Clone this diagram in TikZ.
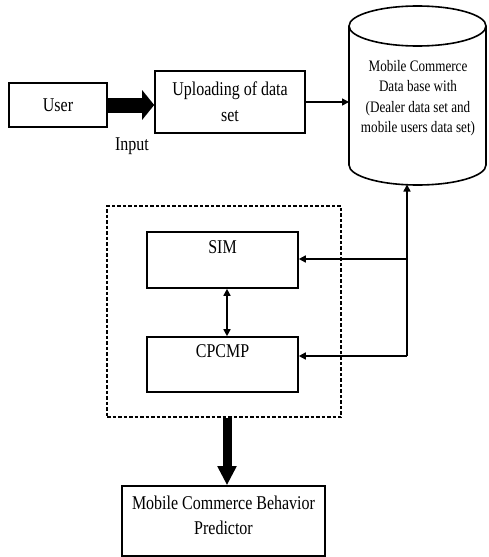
\documentclass[tikz,border=0pt]{standalone}
\usepackage{fontspec}
\setmainfont{Liberation Serif}[FakeStretch=0.82]
\usetikzlibrary{arrows.meta,calc}
\begin{document}
\begin{tikzpicture}[x=1pt,y=-1pt,
  every node/.style={font=\fontsize{19.5}{20}\selectfont},
  box/.style={draw,line width=1.6pt,inner sep=0pt,align=center},
  arr/.style={line width=1.6pt,-{Triangle[length=7pt,width=7pt]}},
  darr/.style={line width=1.6pt,{Triangle[length=7pt,width=7pt]}-{Triangle[length=7pt,width=7pt]}},
  bigarr/.style={line width=#1,-{Triangle[length=12pt,width=29pt]}}]
\useasboundingbox (0,0) rectangle (488,557);

% top row
\node[box,minimum width=98pt,minimum height=44pt] (user) at (58,105) {User};
\node[box,minimum width=150pt,minimum height=62pt,
      font=\fontsize{19.5}{26}\selectfont] (upload) at (230,102) {Uploading of data\\set};
\node (input) at (132,146) {Input};

% database cylinder
\draw[line width=1.6pt] (349,26) -- (349,165)
  arc[start angle=180,end angle=0,x radius=68.5,y radius=20] -- (486,26);
\draw[line width=1.6pt] (417.5,26) ellipse[x radius=68.5,y radius=20];
\node[align=center,font=\fontsize{16}{20.3}\selectfont] (db) at (418,98)
  {Mobile Commerce\\Data base with\\(Dealer data set and\\mobile users data set)};
\coordinate (dbw) at (349,102);
\coordinate (dbs) at (407,184.5);

% processing block
\node[draw,dashed,dash pattern=on 3.5pt off 2pt,line width=1.6pt,
      minimum width=234pt,minimum height=211pt] (block) at (224,311.5) {};
\node[box,minimum width=151pt,minimum height=56pt,
      label={[anchor=north,yshift=-6pt]north:SIM}] (sim) at (222.5,260) {};
\node[box,minimum width=151pt,minimum height=55pt,
      label={[anchor=north,yshift=-5pt]north:CPCMP}] (cpcmp) at (222.5,364.5) {};

% output
\node[box,minimum width=203pt,minimum height=70pt,
      label={[anchor=north,yshift=-7pt,align=center,font=\fontsize{19.5}{25}\selectfont]north:Mobile Commerce Behavior\\Predictor}]
      (mcbp) at (223.5,521) {};

% connectors
\draw[bigarr=15pt] (user.east) -- (user.east -| upload.west);
\draw[arr] (upload.east |- dbw) -- (dbw);
\coordinate (jA) at (407,259);
\coordinate (jB) at (407,356);
\draw[line width=1.6pt] (jA) -- (jB);
\draw[arr] (jB) -- (dbs);
\draw[arr] (jA) -- (sim.east |- jA);
\draw[arr] (jB) -- (cpcmp.east |- jB);
\draw[darr] ([xshift=4.5pt]sim.south) -- ([xshift=4.5pt]cpcmp.north);
\draw[line width=9pt,-{Triangle[length=19pt,width=18pt]}]
  ([xshift=3pt]block.south) -- ([xshift=3pt]block.south |- mcbp.north);
\end{tikzpicture}
\end{document}
